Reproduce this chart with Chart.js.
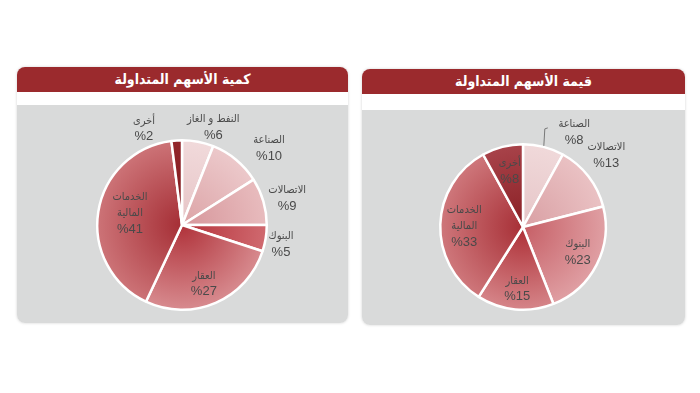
<!DOCTYPE html>
<html><head><meta charset="utf-8">
<script src="https://cdn.jsdelivr.net/npm/chart.js@4/dist/chart.umd.min.js"></script>
<style>
html,body{margin:0;padding:0;background:#fff;width:700px;height:393px;overflow:hidden;font-family:"DejaVu Sans",Arial,sans-serif}
.panel{position:absolute;border-radius:8px;background:#fff;box-shadow:0 0 3px rgba(0,0,0,0.18)}
.hdr{position:absolute;left:0;right:0;top:0;background:#9b2a2d;color:#fff;font-weight:bold;font-size:14px;font-family:"DejaVu Sans Condensed","DejaVu Sans",sans-serif;text-align:center;border-radius:8px 8px 0 0;direction:rtl}
.gray{position:absolute;left:0;right:0;bottom:0;background:#d9dada;border-radius:0 0 8px 8px}
canvas{position:absolute;left:0;top:0}
</style></head><body>
<div class="panel" id="pL" style="left:17px;top:67px;width:331px;height:256px">
  <div class="hdr" style="height:25px;line-height:25px">كمية الأسهم المتداولة</div>
  <div class="gray" style="top:38px"><canvas id="cL" width="331" height="218"></canvas></div>
</div>
<div class="panel" id="pR" style="left:362px;top:69px;width:323px;height:256px">
  <div class="hdr" style="height:25px;line-height:25px">قيمة الأسهم المتداولة</div>
  <div class="gray" style="top:41px"><canvas id="cR" width="323" height="215"></canvas></div>
</div>
<script>
// Data
const leftCategories = ['النفط و الغاز','الصناعة','الاتصالات','البنوك','العقار','الخدمات المالية','أخرى'];
const leftValues = [6,10,9,5,27,41,2];
const rightCategories = ['الصناعة','الاتصالات','البنوك','العقار','الخدمات المالية','أخرى'];
const rightValues = [8,13,23,15,33,8];

// Styles
const leftColors = [['#e6c4c6','#f1dadb'],['#dca3a6','#ecc9cb'],['#d6959a','#e8bcbe'],['#b5323a','#d06a70'],['#b0323a','#d88c90'],['#a52e35','#cd7478'],['#7e1a1e','#93262b']];
const rightColors = [['#e6c5c7','#f0d9da'],['#d99fa3','#eac2c4'],['#c65f66','#e0a0a4'],['#ad2e35','#d6868a'],['#a72f36','#cf787c'],['#8a1f24','#a8434a']];
const leftLabelPos = [[1.21,7],[1.37,9],[1.28,2],[1.19,2],[0.74,3],[0.63,4],[1.22,-18]];
const rightLabelPos = [[1.30,14],[1.33,-3],[0.73,-2],[0.75,0],[0.71,-1],[0.69,1]];
const wrapNames = ['الخدمات المالية'];

function gradFill(colors){
  return function(c){
    const chart = c.chart, ca = chart.chartArea;
    const pair = colors[c.dataIndex];
    if(!ca) return pair[0];
    const cx=(ca.left+ca.right)/2, cy=(ca.top+ca.bottom)/2;
    const r=Math.min(ca.right-ca.left, ca.bottom-ca.top)/2;
    const g=chart.ctx.createRadialGradient(cx,cy,0,cx,cy,r);
    g.addColorStop(0,pair[0]); g.addColorStop(1,pair[1]);
    return g;
  };
}

const labelPlugin = {
  id:'sliceLabels',
  afterDatasetsDraw(chart, args, opts){
    const ctx=chart.ctx, meta=chart.getDatasetMeta(0);
    const cats=chart.data.labels, vals=chart.data.datasets[0].data;
    ctx.save();
    ctx.fillStyle='#4a4a4a';
    ctx.textAlign='center'; ctx.textBaseline='middle';
    ctx.direction='rtl';
    meta.data.forEach((arc,i)=>{
      const p=arc.getProps(['x','y','startAngle','endAngle','outerRadius'],true);
      const mid=(p.startAngle+p.endAngle)/2;
      const [f,off]=opts.pos[i];
      const a=mid+off*Math.PI/180;
      const lx=p.x+Math.cos(a)*p.outerRadius*f, ly=p.y+Math.sin(a)*p.outerRadius*f;
      const name=cats[i];
      const lines = wrapNames.includes(name) ? name.split(' ') : [name];
      lines.push('%'+vals[i]);
      const lh=16, y0=ly-(lines.length-1)*lh/2;
      lines.forEach((t,k)=>{
        ctx.font = (k===lines.length-1) ? '13px "Liberation Sans", Arial, sans-serif' : '11px "DejaVu Sans Condensed", "DejaVu Sans", sans-serif';
        ctx.fillText(t,lx,y0+k*lh);
      });
      if(opts.leader && opts.leader.includes(i)){
        const ex=p.x+Math.cos(mid)*(p.outerRadius+1), ey=p.y+Math.sin(mid)*(p.outerRadius+1);
        ctx.strokeStyle='#777'; ctx.lineWidth=1;
        ctx.beginPath(); ctx.moveTo(ex,ey); ctx.lineTo(ex+1,ey-17); ctx.lineTo(ex+4,ey-18); ctx.stroke();
      }
    });
    ctx.restore();
  }
};

function makePie(id, cats, vals, colors, pos, pad, leader){
  return new Chart(document.getElementById(id),{
    type:'pie',
    data:{labels:cats,datasets:[{data:vals,backgroundColor:gradFill(colors),borderColor:'#ffffff',borderWidth:2.5}]},
    options:{
      responsive:false,animation:false,
      layout:{padding:pad},
      plugins:{legend:{display:false},tooltip:{enabled:false},sliceLabels:{pos:pos,leader:leader}}
    },
    plugins:[labelPlugin]
  });
}
makePie('cL', leftCategories, leftValues, leftColors, leftLabelPos, {left:79,right:80,top:34,bottom:12}, []);
makePie('cR', rightCategories, rightValues, rightColors, rightLabelPos, {left:77,right:78,top:33,bottom:14}, [0]);
</script>
</body></html>
